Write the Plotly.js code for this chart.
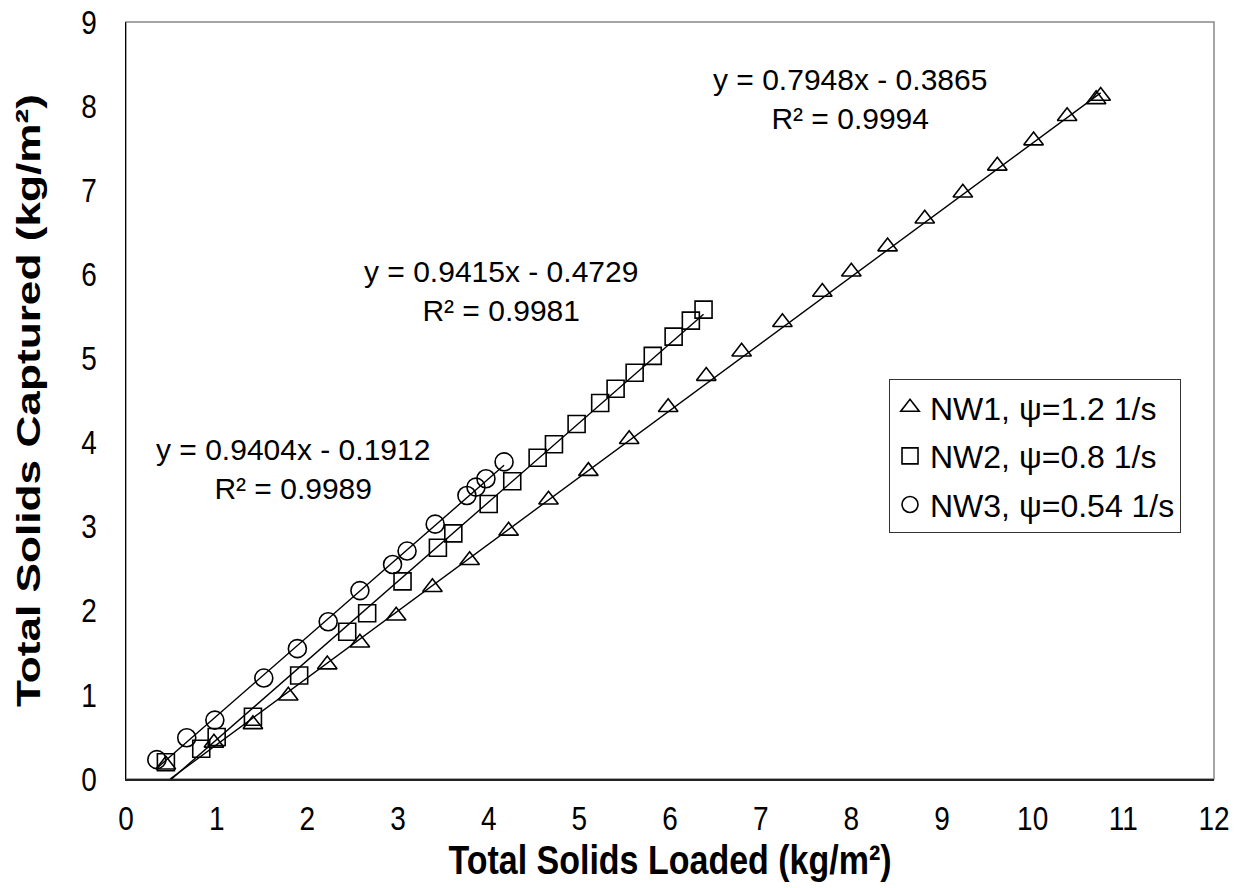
<!DOCTYPE html>
<html>
<head>
<meta charset="utf-8">
<script src="https://cdn.plot.ly/plotly-3.0.1.min.js"></script>
<style>html,body{margin:0;padding:0;background:#fff;}#chart{width:1246px;height:888px;}</style>
</head>
<body>
<div id="chart"></div>
<script>
// ---- data ----
const nw1X = [0.44, 0.97, 1.40, 1.79, 2.22, 2.58, 2.98, 3.38, 3.79, 4.22, 4.66, 5.10, 5.55, 5.98, 6.40, 6.79, 7.24, 7.68, 8.00, 8.40, 8.81, 9.23, 9.61, 10.01, 10.38, 10.70, 10.75];
const nw1Y = [0.17, 0.43, 0.65, 0.99, 1.36, 1.62, 1.94, 2.28, 2.60, 2.95, 3.32, 3.66, 4.04, 4.42, 4.79, 5.08, 5.43, 5.79, 6.03, 6.33, 6.66, 6.97, 7.29, 7.59, 7.88, 8.08, 8.12];

const nw2X = [0.44, 0.83, 1.00, 1.40, 1.91, 2.44, 2.66, 3.05, 3.44, 3.61, 4.00, 4.26, 4.54, 4.72, 4.97, 5.23, 5.40, 5.61, 5.81, 6.04, 6.23, 6.37];
const nw2Y = [0.20, 0.36, 0.50, 0.74, 1.23, 1.75, 1.97, 2.35, 2.75, 2.92, 3.27, 3.54, 3.82, 3.98, 4.22, 4.47, 4.64, 4.83, 5.03, 5.26, 5.45, 5.58];

const nw3X = [0.34, 0.67, 0.98, 1.52, 1.89, 2.23, 2.58, 2.94, 3.10, 3.41, 3.76, 3.86, 3.97, 4.17];
const nw3Y = [0.23, 0.49, 0.70, 1.20, 1.55, 1.87, 2.24, 2.55, 2.71, 3.03, 3.37, 3.47, 3.57, 3.77];

const seriesNames = ["NW1, \u03c8=1.2 1/s", "NW2, \u03c8=0.8 1/s", "NW3, \u03c8=0.54 1/s"];
const slopes = [0.7948, 0.9415, 0.9404];
const intercepts = [-0.3865, -0.4729, -0.1912];
const r2 = ["0.9994", "0.9981", "0.9989"];

const xTicks = [0,1,2,3,4,5,6,7,8,9,10,11,12];
const yTicks = [0,1,2,3,4,5,6,7,8,9];

// ---- build ----
const FONT = 'Arial, "Liberation Sans", sans-serif';
const xs = [nw1X, nw2X, nw3X];
const ys = [nw1Y, nw2Y, nw3Y];
const symbols = ['triangle-up-open', 'square-open', 'circle-open'];
const sizes = [17, 17, 18];

const traces = [];
for (let i = 0; i < 3; i++) {
  const x0 = Math.max(Math.min(...xs[i]), -intercepts[i] / slopes[i]);
  const x1 = Math.max(...xs[i]);
  const lx = [x0, x1];
  const ly = lx.map(v => slopes[i] * v + intercepts[i]);
  traces.push({x: lx, y: ly, mode: 'lines', line: {color: '#000', width: 1.4}, showlegend: false, hoverinfo: 'skip'});
}
for (let i = 0; i < 3; i++) {
  traces.push({
    x: xs[i], y: ys[i], mode: 'markers', name: seriesNames[i], legendgroup: 'g' + i,
    marker: {symbol: symbols[i], size: sizes[i], color: '#000', line: {color: '#000', width: 1.6}}
  });
}

// equation label block centres in axis units
const annPos = [[7.98, 8.09], [4.14, 5.80], [1.84, 3.69]];
const annotations = annPos.map((p, i) => {
  const b = intercepts[i];
  const eq = 'y = ' + slopes[i].toFixed(4) + 'x ' + (b < 0 ? '- ' : '+ ') + Math.abs(b).toFixed(4);
  return {
    x: p[0], y: p[1], xref: 'x', yref: 'y', text: eq + '<br>R\u00b2 = ' + r2[i], showarrow: false,
    font: {family: FONT, size: 30, color: '#000'}, align: 'center', xanchor: 'center', yanchor: 'middle'
  };
});

const layout = {
  width: 1246, height: 888,
  margin: {l: 126, r: 32, t: 22, b: 109},
  paper_bgcolor: '#fff', plot_bgcolor: '#fff',
  font: {family: FONT, color: '#000'},
  xaxis: {
    range: [0, 12], tickvals: xTicks, ticktext: xTicks.map(String),
    showgrid: false, zeroline: false, showline: true, linecolor: '#222', linewidth: 1.5,
    ticks: '', ticklabelstandoff: 14, tickfont: {family: FONT, size: 28, color: '#000'},
    automargin: false,
    title: {text: 'Total Solids Loaded (kg/m\u00b2)', font: {family: FONT, size: 34, color: '#000', weight: 'bold'}, standoff: 14}
  },
  yaxis: {
    range: [0, 9], tickvals: yTicks, ticktext: yTicks.map(String),
    showgrid: false, zeroline: false, showline: true, linecolor: '#000', linewidth: 1.5,
    ticks: '', ticklabelstandoff: 22, tickfont: {family: FONT, size: 28, color: '#000'},
    automargin: false,
    title: {text: 'Total Solids Captured (kg/m\u00b2)', font: {family: FONT, size: 34, color: '#000', weight: 'bold'}, standoff: 30}
  },
  shapes: [{type: 'rect', xref: 'paper', yref: 'paper', x0: 0, x1: 1, y0: 0, y1: 1, line: {color: '#888', width: 1.5}, layer: 'below'}],
  legend: {
    x: 0.7013, y: 0.325, xanchor: 'left', yanchor: 'bottom',
    bordercolor: '#333', borderwidth: 1, bgcolor: '#fff', traceorder: 'grouped',
    font: {family: FONT, size: 32, color: '#000'}, itemwidth: 30, tracegroupgap: 4
  },
  annotations: annotations,
  showlegend: true
};

Plotly.newPlot('chart', traces, layout, {staticPlot: true, displayModeBar: false}).then(function(gd){
  // the reference axis text is drawn taller than standard Arial: stretch glyphs about their centres
  const K = 1.2;
  gd.querySelectorAll('.xtick text, .ytick text, .xtitle').forEach(function(t){
    const b = t.getBBox();
    const cy = b.y + b.height / 2;
    const tr = t.getAttribute('transform') || '';
    t.setAttribute('transform', tr + ' translate(0,' + cy + ') scale(1,' + K + ') translate(0,' + (-cy) + ')');
  });
  gd.querySelectorAll('.ytitle').forEach(function(t){
    const b = t.getBBox();
    const cx = b.x + b.width / 2;
    const tr = t.getAttribute('transform') || '';
    t.setAttribute('transform', tr + ' translate(' + cx + ',0) scale(1.3,1) translate(' + (-cx) + ',0)');
  });
});
</script>
</body>
</html>
